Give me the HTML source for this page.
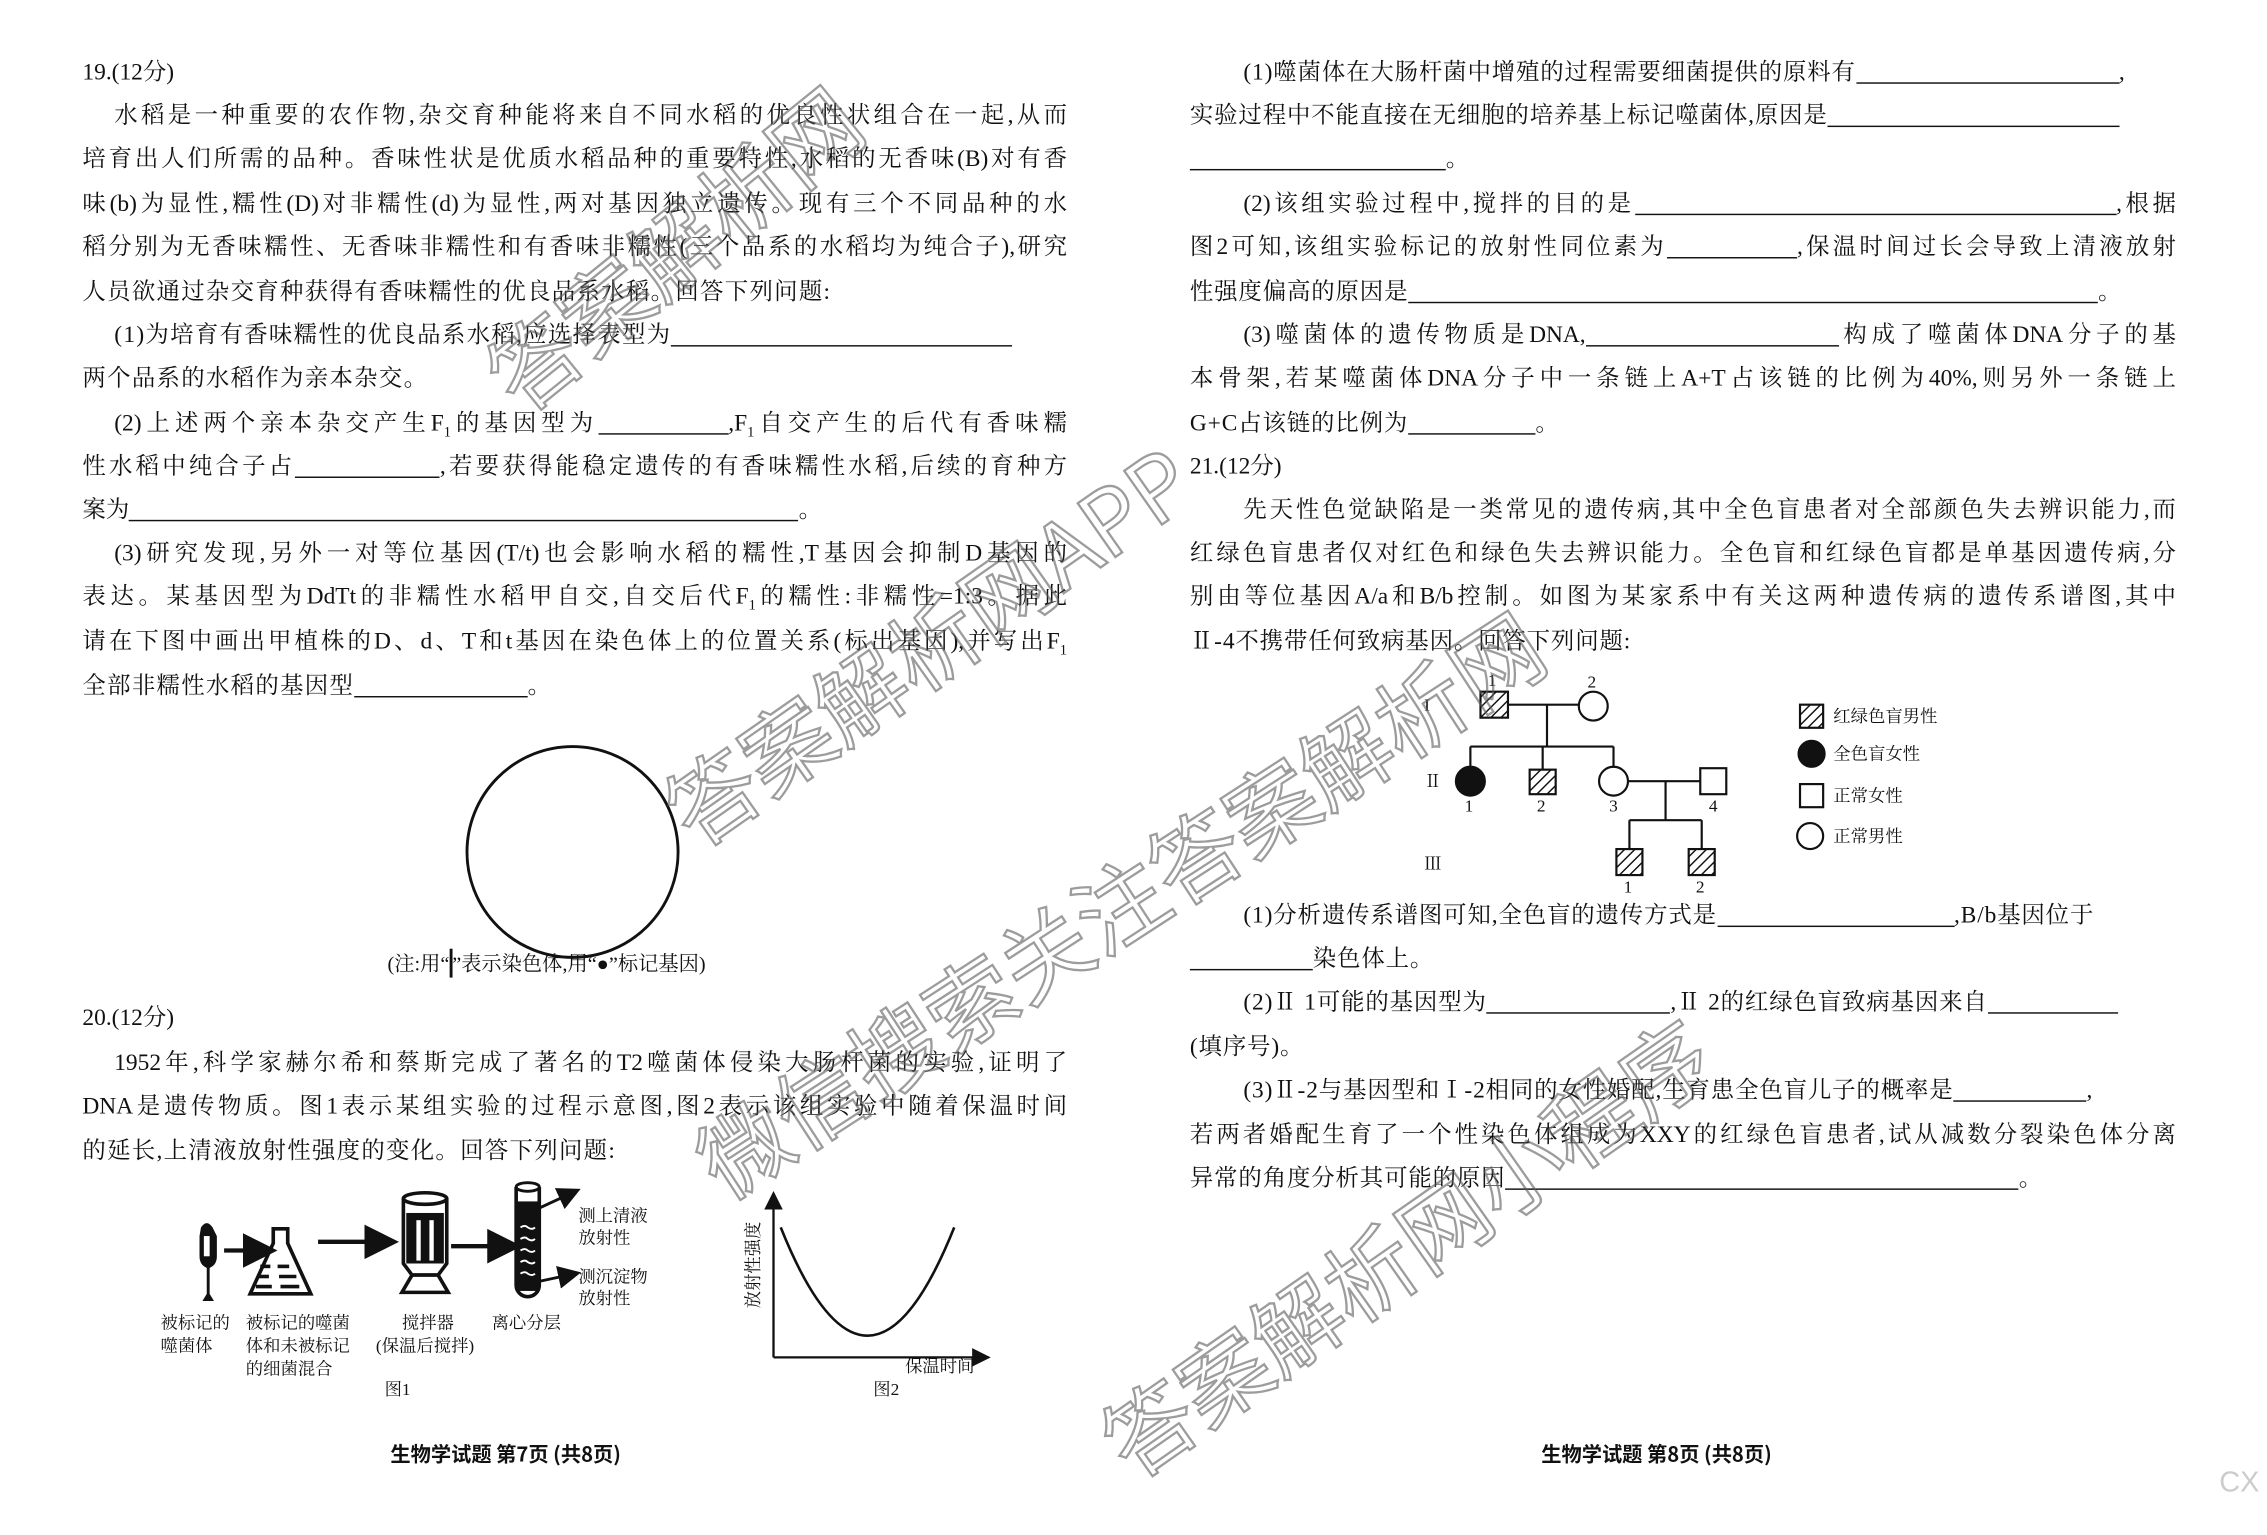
<!DOCTYPE html>
<html><head><meta charset="utf-8">
<style>
html,body{margin:0;padding:0;background:#fff;}
body{width:2267px;height:1535px;overflow:hidden;position:relative;}
#s{position:absolute;left:0;top:0;width:1568px;height:1063px;transform-origin:0 0;transform:scale(1.4458,1.444);font-family:"Liberation Serif","Noto Serif CJK SC",serif;color:#111;}
.l{position:absolute;height:22px;line-height:22px;font-size:16.2px;white-space:nowrap;}
.j{text-align:justify;text-align-last:justify;white-space:normal;overflow:hidden;}
.L{left:57px;width:681px;}
.Li{left:79px;width:659px;}
.R{left:823px;width:682px;}
.Ri{left:860px;width:645px;}
.u{display:inline-block;border-bottom:1.3px solid #111;height:17px;vertical-align:-3px;}
.wm{position:absolute;font-family:"Noto Sans CJK SC",sans-serif;font-size:62px;line-height:70px;color:transparent;-webkit-text-stroke:1.6px rgba(90,90,90,0.6);white-space:nowrap;transform-origin:0 0;}
.sm{position:absolute;font-size:12px;line-height:14px;white-space:nowrap;}
</style></head><body><div id="s">

<div class="l" style="left:57px;top:39px">19.(12分)</div>
<div class="l j Li" style="top:69px">水稻是一种重要的农作物,杂交育种能将来自不同水稻的优良性状组合在一起,从而</div>
<div class="l j L" style="top:99px">培育出人们所需的品种。香味性状是优质水稻品种的重要特性,水稻的无香味(B)对有香</div>
<div class="l j L" style="top:130px">味(b)为显性,糯性(D)对非糯性(d)为显性,两对基因独立遗传。现有三个不同品种的水</div>
<div class="l j L" style="top:160px">稻分别为无香味糯性、无香味非糯性和有香味非糯性(三个品系的水稻均为纯合子),研究</div>
<div class="l" style="left:57px;top:191px;letter-spacing:0.9px">人员欲通过杂交育种获得有香味糯性的优良品系水稻。回答下列问题:</div>
<div class="l" style="left:79px;top:221px;letter-spacing:0.9px">(1)为培育有香味糯性的优良品系水稻,应选择表型为<span class="u" style="width:236px"></span></div>
<div class="l" style="left:57px;top:251px;letter-spacing:0.9px">两个品系的水稻作为亲本杂交。</div>
<div class="l j Li" style="top:282px">(2)上述两个亲本杂交产生F<sub style="font-size:10px">1</sub>的基因型为<span class="u" style="width:90px"></span>,F<sub style="font-size:10px">1</sub>自交产生的后代有香味糯</div>
<div class="l j L" style="top:312px">性水稻中纯合子占<span class="u" style="width:100px"></span>,若要获得能稳定遗传的有香味糯性水稻,后续的育种方</div>
<div class="l" style="left:57px;top:342px">案为<span class="u" style="width:463px"></span>。</div>
<div class="l j Li" style="top:372px">(3)研究发现,另外一对等位基因(T/t)也会影响水稻的糯性,T基因会抑制D基因的</div>
<div class="l j L" style="top:402px">表达。某基因型为DdTt的非糯性水稻甲自交,自交后代F<sub style="font-size:10px">1</sub>的糯性:非糯性=1:3。据此</div>
<div class="l j L" style="top:433px">请在下图中画出甲植株的D、d、T和t基因在染色体上的位置关系(标出基因),并写出F<sub style="font-size:10px">1</sub></div>
<div class="l" style="left:57px;top:464px;letter-spacing:0.9px">全部非糯性水稻的基因型<span class="u" style="width:120px"></span>。</div>

<svg style="position:absolute;left:0;top:0" width="1568" height="1063">
<circle cx="396" cy="590" r="73" fill="none" stroke="#111" stroke-width="2"/>
</svg>
<div class="l" style="left:268px;top:657px;font-size:14px">(注:用“<span style="display:inline-block;width:2px;height:20px;background:#111;vertical-align:-5px"></span>”表示染色体,用“●”标记基因)</div>

<div class="l" style="left:57px;top:694px">20.(12分)</div>
<div class="l j Li" style="top:725px">1952年,科学家赫尔希和蔡斯完成了著名的T2噬菌体侵染大肠杆菌的实验,证明了</div>
<div class="l j L" style="top:755px">DNA是遗传物质。图1表示某组实验的过程示意图,图2表示该组实验中随着保温时间</div>
<div class="l" style="left:57px;top:786px;letter-spacing:0.9px">的延长,上清液放射性强度的变化。回答下列问题:</div>

<svg style="position:absolute;left:0;top:0" width="1568" height="1063">
<defs><marker id="ah" markerWidth="8" markerHeight="8" refX="6" refY="4" orient="auto"><path d="M0,0 L8,4 L0,8 z" fill="#111"/></marker>
<pattern id="hat" width="5" height="5" patternUnits="userSpaceOnUse" patternTransform="rotate(45)"><rect width="5" height="5" fill="#fff"/><line x1="0" y1="0" x2="0" y2="5" stroke="#111" stroke-width="2"/></pattern></defs>
<path d="M139,850 q4,-6 8,0 l3,6 v14 q0,6 -5,8 v18 l3,5 h-8 l3,-5 v-18 q-5,-2 -5,-8 v-14z" fill="#111"/>
<rect x="141" y="856" width="4" height="14" fill="#fff"/>
<line x1="155" y1="866" x2="186" y2="866" stroke="#111" stroke-width="3" marker-end="url(#ah)"/>
<path d="M189,851 h10 v10 l16,35 h-42 l16,-35z" fill="none" stroke="#111" stroke-width="2.5"/>
<g stroke="#111" stroke-width="2.5"><line x1="180" y1="877" x2="187" y2="877"/><line x1="192" y1="877" x2="200" y2="877"/><line x1="178" y1="884" x2="186" y2="884"/><line x1="193" y1="884" x2="205" y2="884"/><line x1="177" y1="891" x2="188" y2="891"/><line x1="194" y1="891" x2="207" y2="891"/></g>
<line x1="220" y1="860" x2="270" y2="860" stroke="#111" stroke-width="3" marker-end="url(#ah)"/>
<ellipse cx="294" cy="830" rx="15" ry="4" fill="none" stroke="#111" stroke-width="2.5"/>
<path d="M279,830 v45 l6,8 h18 l6,-8 v-45" fill="none" stroke="#111" stroke-width="2.5"/>
<rect x="281" y="840" width="26" height="35" fill="#111"/><rect x="288" y="845" width="3" height="28" fill="#fff"/><rect x="297" y="845" width="3" height="28" fill="#fff"/>
<path d="M285,883 l-7,12 h32 l-7,-12z" fill="#fff" stroke="#111" stroke-width="2.5"/>
<line x1="312" y1="863" x2="355" y2="863" stroke="#111" stroke-width="3" marker-end="url(#ah)"/>
<ellipse cx="365" cy="822" rx="8" ry="3" fill="none" stroke="#111" stroke-width="2"/>
<path d="M357,822 v68 a8,8 0 0 0 16,0 v-68" fill="none" stroke="#111" stroke-width="2.5"/>
<rect x="358" y="832" width="14" height="62" fill="#111"/>
<g stroke="#fff" stroke-width="1.3" fill="none"><path d="M360,850 q3,-2 5,0 q3,2 5,0"/><path d="M360,858 q3,-2 5,0 q3,2 5,0"/><path d="M360,866 q3,-2 5,0 q3,2 5,0"/><path d="M360,874 q3,-2 5,0 q3,2 5,0"/><path d="M360,882 q3,-2 5,0 q3,2 5,0"/></g>
<line x1="370" y1="838" x2="398" y2="825" stroke="#111" stroke-width="2" marker-end="url(#ah)"/>
<line x1="370" y1="888" x2="398" y2="882" stroke="#111" stroke-width="2" marker-end="url(#ah)"/>
<line x1="535" y1="940" x2="535" y2="828" stroke="#111" stroke-width="1.6" marker-end="url(#ah)"/>
<line x1="535" y1="940" x2="682" y2="940" stroke="#111" stroke-width="1.6" marker-end="url(#ah)"/>
<path d="M540,850 Q600,1000 660,850" fill="none" stroke="#111" stroke-width="1.8"/>

<g stroke="#111" stroke-width="1.5" fill="none">
<line x1="1043" y1="488" x2="1092" y2="488"/>
<line x1="1070" y1="488" x2="1070" y2="517"/>
<line x1="1017" y1="517" x2="1116" y2="517"/>
<line x1="1017" y1="517" x2="1017" y2="531"/>
<line x1="1067" y1="517" x2="1067" y2="533"/>
<line x1="1116" y1="517" x2="1116" y2="531"/>
<line x1="1126" y1="541" x2="1176" y2="541"/>
<line x1="1152" y1="541" x2="1152" y2="568"/>
<line x1="1127" y1="568" x2="1177" y2="568"/>
<line x1="1127" y1="568" x2="1127" y2="588"/>
<line x1="1177" y1="568" x2="1177" y2="588"/>
<rect x="1024" y="479" width="19" height="18" fill="url(#hat)"/>
<circle cx="1102" cy="489" r="10" fill="#fff"/>
<circle cx="1017" cy="541" r="10" fill="#111"/>
<rect x="1058" y="533" width="18" height="17" fill="url(#hat)"/>
<circle cx="1116" cy="541" r="10" fill="#fff"/>
<rect x="1176" y="532" width="18" height="18" fill="#fff"/>
<rect x="1118" y="588" width="18" height="18" fill="url(#hat)"/>
<rect x="1168" y="588" width="18" height="18" fill="url(#hat)"/>
<rect x="1245" y="488" width="16" height="16" fill="url(#hat)"/>
<circle cx="1253" cy="522" r="9" fill="#111"/>
<rect x="1245" y="543" width="16" height="16" fill="#fff"/>
<circle cx="1252" cy="579" r="9" fill="#fff"/>
</g>
</svg>

<div class="sm" style="left:111px;top:909px">被标记的</div>
<div class="sm" style="left:111px;top:925px">噬菌体</div>
<div class="sm" style="left:170px;top:909px">被标记的噬菌</div>
<div class="sm" style="left:170px;top:925px">体和未被标记</div>
<div class="sm" style="left:170px;top:941px">的细菌混合</div>
<div class="sm" style="left:278px;top:909px">搅拌器</div>
<div class="sm" style="left:260px;top:925px">(保温后搅拌)</div>
<div class="sm" style="left:340px;top:909px">离心分层</div>
<div class="sm" style="left:400px;top:835px">测上清液</div>
<div class="sm" style="left:400px;top:850px">放射性</div>
<div class="sm" style="left:400px;top:877px">测沉淀物</div>
<div class="sm" style="left:400px;top:892px">放射性</div>
<div class="sm" style="left:266px;top:955px">图1</div>
<div class="sm" style="left:604px;top:955px">图2</div>
<div class="sm" style="left:626px;top:939px">保温时间</div>
<div class="sm" style="left:514px;top:906px;transform:rotate(-90deg);transform-origin:0 0">放射性强度</div>

<div class="l" style="left:270px;top:996px;font-size:14px;font-weight:bold;font-family:'Noto Sans CJK SC',sans-serif">生物学试题 第7页 (共8页)</div>
<div class="l" style="left:1066px;top:996px;font-size:14px;font-weight:bold;font-family:'Noto Sans CJK SC',sans-serif">生物学试题 第8页 (共8页)</div>

<div class="l" style="left:860px;top:39px;letter-spacing:0.6px">(1)噬菌体在大肠杆菌中增殖的过程需要细菌提供的原料有<span class="u" style="width:182px"></span>,</div>
<div class="l" style="left:823px;top:69px;letter-spacing:0.6px">实验过程中不能直接在无细胞的培养基上标记噬菌体,原因是<span class="u" style="width:202px"></span></div>
<div class="l" style="left:823px;top:99px"><span class="u" style="width:177px"></span>。</div>
<div class="l j Ri" style="top:130px">(2)该组实验过程中,搅拌的目的是<span class="u" style="width:333px"></span>,根据</div>
<div class="l j R" style="top:160px">图2可知,该组实验标记的放射性同位素为<span class="u" style="width:90px"></span>,保温时间过长会导致上清液放射</div>
<div class="l" style="left:823px;top:191px;letter-spacing:0.6px">性强度偏高的原因是<span class="u" style="width:477px"></span>。</div>
<div class="l j Ri" style="top:221px">(3)噬菌体的遗传物质是DNA,<span class="u" style="width:175px"></span>构成了噬菌体DNA分子的基</div>
<div class="l j R" style="top:251px">本骨架,若某噬菌体DNA分子中一条链上A+T占该链的比例为40%,则另外一条链上</div>
<div class="l" style="left:823px;top:282px;letter-spacing:0.6px">G+C占该链的比例为<span class="u" style="width:88px"></span>。</div>
<div class="l" style="left:823px;top:312px">21.(12分)</div>
<div class="l j Ri" style="top:342px">先天性色觉缺陷是一类常见的遗传病,其中全色盲患者对全部颜色失去辨识能力,而</div>
<div class="l j R" style="top:372px">红绿色盲患者仅对红色和绿色失去辨识能力。全色盲和红绿色盲都是单基因遗传病,分</div>
<div class="l j R" style="top:402px">别由等位基因A/a和B/b控制。如图为某家系中有关这两种遗传病的遗传系谱图,其中</div>
<div class="l" style="left:823px;top:433px;letter-spacing:0.6px">Ⅱ-4不携带任何致病基因。回答下列问题:</div>

<div class="sm" style="left:1029px;top:464px">1</div>
<div class="sm" style="left:1098px;top:465px">2</div>
<div class="sm" style="left:985px;top:481px">I</div>
<div class="sm" style="left:985px;top:534px">Ⅱ</div>
<div class="sm" style="left:985px;top:591px">Ⅲ</div>
<div class="sm" style="left:1013px;top:551px">1</div>
<div class="sm" style="left:1063px;top:551px">2</div>
<div class="sm" style="left:1113px;top:551px">3</div>
<div class="sm" style="left:1182px;top:551px">4</div>
<div class="sm" style="left:1123px;top:607px">1</div>
<div class="sm" style="left:1173px;top:607px">2</div>
<div class="sm" style="left:1268px;top:489px">红绿色盲男性</div>
<div class="sm" style="left:1268px;top:515px">全色盲女性</div>
<div class="sm" style="left:1268px;top:544px">正常女性</div>
<div class="sm" style="left:1268px;top:572px">正常男性</div>

<div class="l" style="left:860px;top:623px;letter-spacing:0.6px">(1)分析遗传系谱图可知,全色盲的遗传方式是<span class="u" style="width:164px"></span>,B/b基因位于</div>
<div class="l" style="left:823px;top:653px;letter-spacing:0.6px"><span class="u" style="width:85px"></span>染色体上。</div>
<div class="l" style="left:860px;top:683px;letter-spacing:0.6px">(2)Ⅱ 1可能的基因型为<span class="u" style="width:127px"></span>,Ⅱ 2的红绿色盲致病基因来自<span class="u" style="width:90px"></span></div>
<div class="l" style="left:823px;top:714px;letter-spacing:0.6px">(填序号)。</div>
<div class="l" style="left:860px;top:744px;letter-spacing:0.6px">(3)Ⅱ-2与基因型和Ⅰ-2相同的女性婚配,生育患全色盲儿子的概率是<span class="u" style="width:92px"></span>,</div>
<div class="l j R" style="top:775px">若两者婚配生育了一个性染色体组成为XXY的红绿色盲患者,试从减数分裂染色体分离</div>
<div class="l" style="left:823px;top:805px;letter-spacing:0.6px">异常的角度分析其可能的原因<span class="u" style="width:355px"></span>。</div>

<div class="wm" style="left:322px;top:240px;transform:rotate(-39deg)">答案解析网</div>
<div class="wm" style="left:446px;top:538px;transform:rotate(-35deg)">答案解析网APP</div>
<div class="wm" style="left:468px;top:780px;transform:rotate(-33deg)">微信搜索关注答案解析网</div>
<div class="wm" style="left:748px;top:975px;transform:rotate(-35deg)">答案解析网小程序</div>
<div class="sm" style="left:1535px;top:1020px;font-size:20px;color:#ccc;font-family:'Liberation Sans',sans-serif">CX</div>
</div></body></html>
